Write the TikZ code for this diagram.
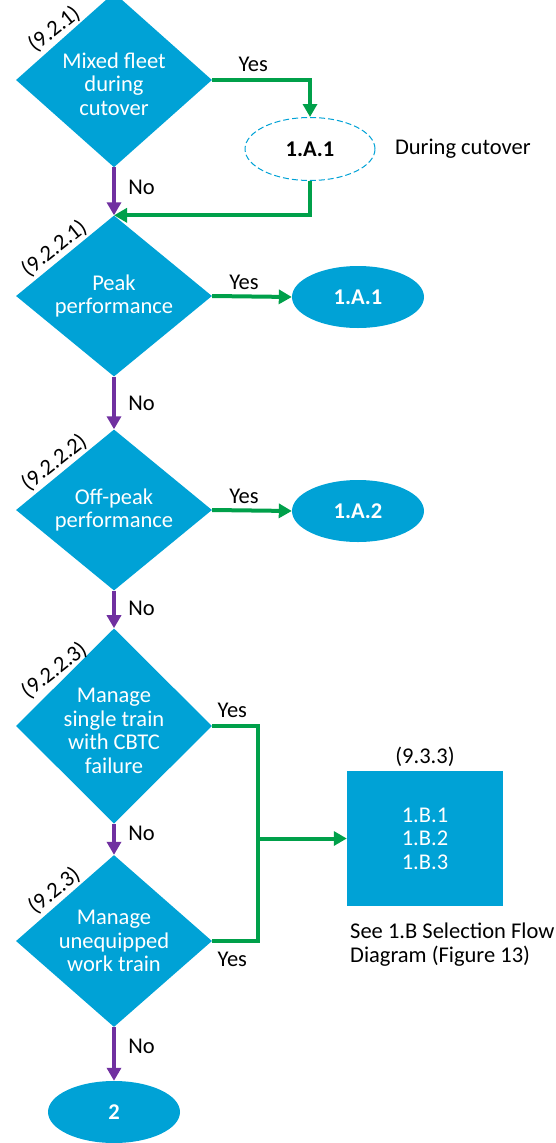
\documentclass[tikz,border=0pt]{standalone}
\usepackage{fontspec}
\setmainfont{Carlito}
\usetikzlibrary{shapes.geometric,arrows.meta,calc}
\definecolor{boxblue}{RGB}{0,162,214}
\definecolor{yesgreen}{RGB}{0,160,74}
\definecolor{nopurple}{RGB}{112,48,160}

\begin{document}
\begin{tikzpicture}[x=1pt,y=-1pt,
  txt/.style={font=\fontsize{22.5}{24}\selectfont},
  decision/.style={diamond, fill=boxblue, text=white, minimum width=196pt,
    minimum height=156pt, inner sep=0pt, align=center,
    font=\fontsize{22.5}{23.5}\selectfont},
  term/.style={ellipse, fill=boxblue, text=white, minimum width=132pt,
    minimum height=62pt, inner sep=0pt, font=\fontsize{22.5}{24}\selectfont\bfseries},
  ghost/.style={ellipse, draw=boxblue, line width=1pt, dash pattern=on 6pt off 3pt,
    fill=white, text=black, minimum width=130pt, minimum height=63pt, inner sep=0pt,
    font=\fontsize{22.5}{24}\selectfont\bfseries},
  process/.style={rectangle, fill=boxblue, text=white, minimum width=156pt,
    minimum height=135pt, inner sep=0pt, align=center,
    font=\fontsize{22.5}{23.5}\selectfont},
  arrowhead/.style={-{Triangle[length=13pt,width=14pt]}},
  yesline/.style={draw=yesgreen, line width=4pt},
  noline/.style={draw=nopurple, line width=4pt, arrowhead},
  ref/.style={txt, rotate=38.5, anchor=south, inner sep=2.5pt},
]
\useasboundingbox (0,0) rectangle (556,1143);

% decisions
\node[decision] (d1) at (114,80)  {\rule{0pt}{24pt}Mixed fleet\\during\\cutover};
\node[decision] (d2) at (114,296) {Peak\\performance};
\node[decision] (d3) at (114,510) {Off-peak\\performance};
\node[decision] (d4) at (114,726) {\rule{0pt}{24pt}Manage\\single train\\with CBTC\\failure};
\node[decision] (d5) at (114,941) {Manage\\unequipped\\work train};

% outcomes
\node[ghost] (e0) at (310,149) {1.A.1};
\node[txt, right=16pt] at (e0.east) {During cutover};
\node[term] (a1) at (358,297) {1.A.1};
\node[term] (a2) at (358,511) {1.A.2};
\node[process] (b) at (425,838.5) {1.B.1\\1.B.2\\1.B.3};
\node[txt, above=1pt] at (b.north) {(9.3.3)};
\node[txt, align=left, anchor=north west, inner sep=0pt] at (350,923)
  {See 1.B Selection Flow\\Diagram (Figure 13)};
\node[term] (t2) at (114,1112) {2};

% section references along the upper-left edges
\node[ref] at ($(d1.west)!0.47!(d1.north)$) {(9.2.1)};
\node[ref] at ($(d2.west)!0.47!(d2.north)$) {(9.2.2.1)};
\node[ref] at ($(d3.west)!0.47!(d3.north)$) {(9.2.2.2)};
\node[ref] at ($(d4.west)!0.47!(d4.north)$) {(9.2.2.3)};
\node[ref] at ($(d5.west)!0.47!(d5.north)$) {(9.2.3)};

% "No" branches
\draw[noline] (d1.south) -- node[txt, right=9pt, pos=0.42] {No} (d2.north);
\draw[noline] (d2.south) -- node[txt, right=9pt] {No} (d3.north);
\draw[noline] (d3.south) -- node[txt, right=9pt, pos=0.47] {No} (d4.north);
\draw[noline] (d4.south) -- node[txt, right=9pt, pos=0.32] {No} (d5.north);
\draw[noline] (d5.south) -- node[txt, right=9pt, pos=0.35] {No} (t2.north);

% "Yes" branches
\draw[yesline, arrowhead] (d1.east) -| node[txt, pos=0.21, above=3pt] {Yes} (e0.north);
\draw[yesline, arrowhead] (e0.south) |- (d2.north);
\draw[yesline, arrowhead] (d2.east) -- node[txt, above=1pt, pos=0.4] {Yes} (a1.west);
\draw[yesline, arrowhead] (d3.east) -- node[txt, above=1pt, pos=0.4] {Yes} (a2.west);

\coordinate (bus) at (258,838.5);
\draw[yesline] (d4.east) -| node[txt, pos=0.22, above=3pt] {Yes} (bus);
\draw[yesline] (d5.east) -| node[txt, pos=0.22, below=6pt] {Yes} (bus);
\draw[yesline, arrowhead] (bus) -- (b.west);
\end{tikzpicture}
\end{document}
